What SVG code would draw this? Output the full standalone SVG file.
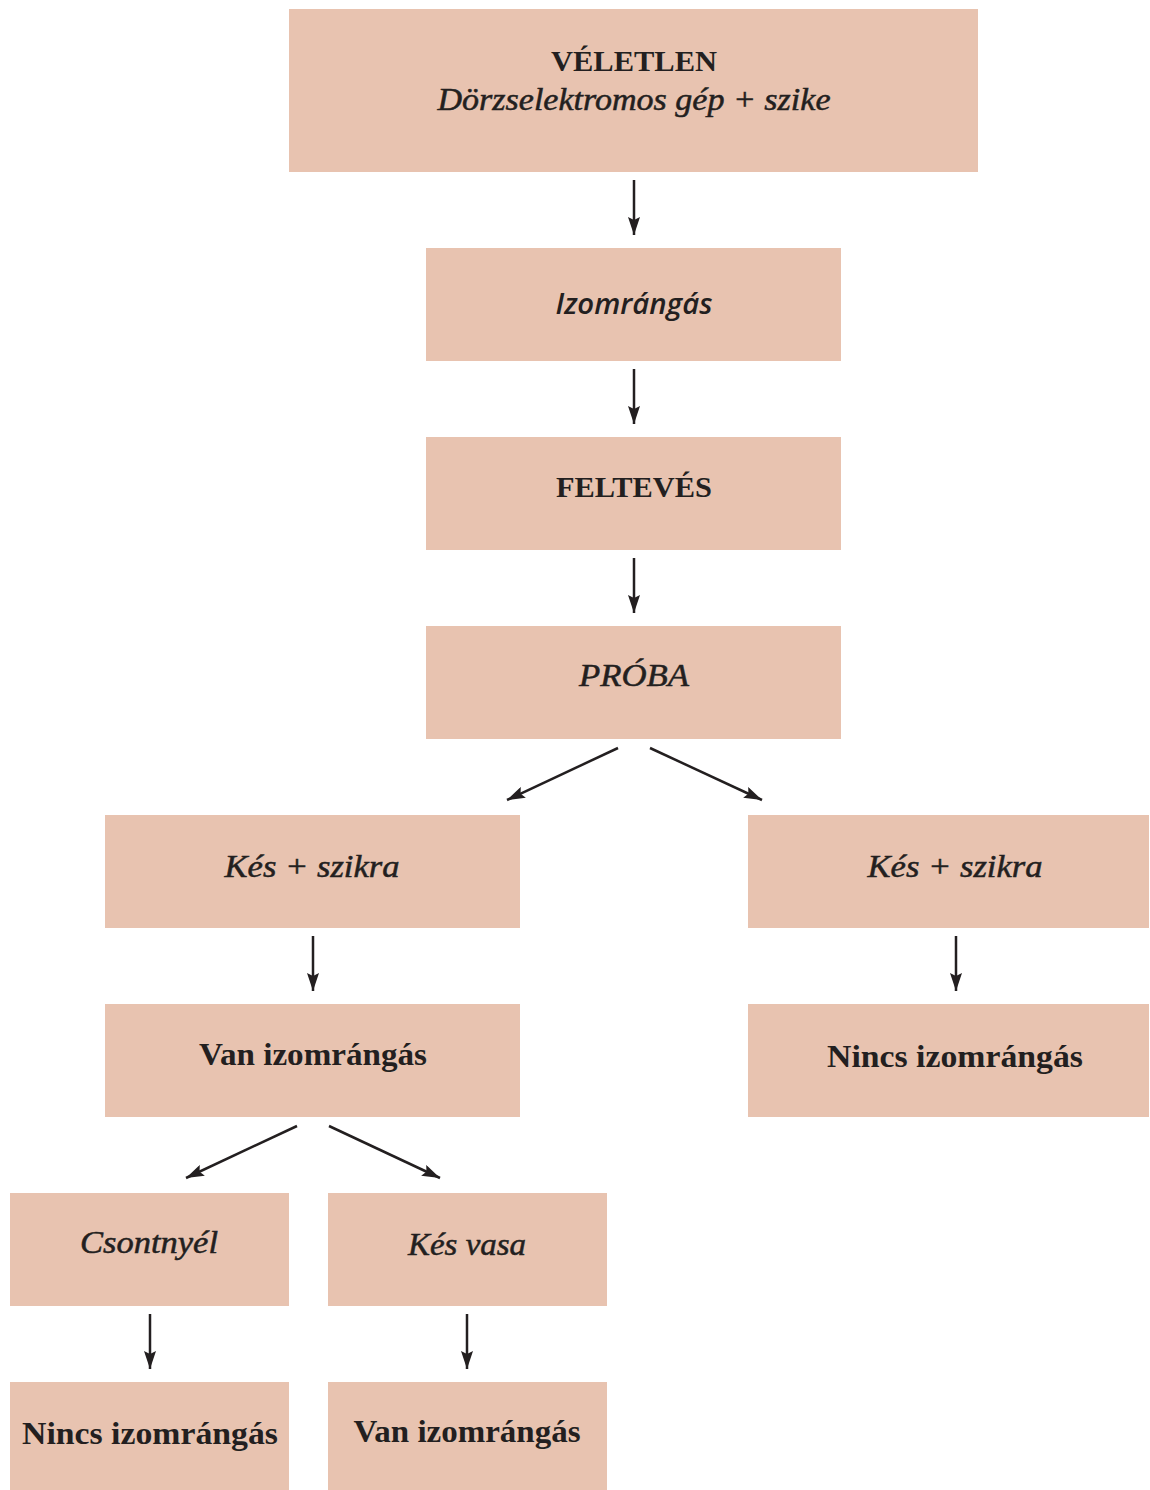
<svg xmlns="http://www.w3.org/2000/svg" width="1150" height="1490" viewBox="0 0 1150 1490">
  <defs>
    <marker id="head" viewBox="0 0 18 12" refX="18" refY="6" markerWidth="18" markerHeight="12" markerUnits="userSpaceOnUse" orient="auto">
      <path d="M0,0 L18,6 L0,12 L3,6 Z" fill="#231f20"/>
    </marker>
    <style>
      .box { fill: #e8c3b0; }
      .t { font-family: "Liberation Serif", "Times New Roman", serif; font-size: 30px; fill: #231f20; text-anchor: middle; }
      .b { font-weight: bold; }
      .lg { font-size: 32px; }
      .i { font-style: italic; font-size: 31px; stroke: #231f20; stroke-width: 0.5; }
      .sans { font-family: "Open Sans", "Liberation Sans", sans-serif; font-weight: 600; font-style: italic; font-size: 29px; }
      .arrow { stroke: #231f20; stroke-width: 2.5; fill: none; marker-end: url(#head); }
    </style>
  </defs>
  <rect width="1150" height="1490" fill="#ffffff"/>

  <g id="veletlen">
    <rect class="box" x="289" y="9" width="689" height="163"/>
    <text class="t b" x="634" y="71" textLength="166" lengthAdjust="spacingAndGlyphs">VÉLETLEN</text>
    <text class="t i" x="634" y="110" textLength="393" lengthAdjust="spacingAndGlyphs">Dörzselektromos gép + szike</text>
  </g>
  <g id="izomrangas">
    <rect class="box" x="426" y="248" width="415" height="113"/>
    <text class="t sans" x="634" y="314" textLength="157" lengthAdjust="spacingAndGlyphs">Izomrángás</text>
  </g>
  <g id="felteves">
    <rect class="box" x="426" y="437" width="415" height="113"/>
    <text class="t b" x="634" y="497" textLength="156" lengthAdjust="spacingAndGlyphs">FELTEVÉS</text>
  </g>
  <g id="proba">
    <rect class="box" x="426" y="626" width="415" height="113"/>
    <text class="t i" x="634" y="686" textLength="110" lengthAdjust="spacingAndGlyphs">PRÓBA</text>
  </g>
  <g id="kes-szikra-bal">
    <rect class="box" x="105" y="815" width="415" height="113"/>
    <text class="t i" x="312" y="877" textLength="175" lengthAdjust="spacingAndGlyphs">Kés + szikra</text>
  </g>
  <g id="kes-szikra-jobb">
    <rect class="box" x="748" y="815" width="401" height="113"/>
    <text class="t i" x="955" y="877" textLength="175" lengthAdjust="spacingAndGlyphs">Kés + szikra</text>
  </g>
  <g id="van-izomrangas-1">
    <rect class="box" x="105" y="1004" width="415" height="113"/>
    <text class="t b lg" x="313" y="1065" textLength="228" lengthAdjust="spacingAndGlyphs">Van izomrángás</text>
  </g>
  <g id="nincs-izomrangas-1">
    <rect class="box" x="748" y="1004" width="401" height="113"/>
    <text class="t b lg" x="955" y="1067" textLength="256" lengthAdjust="spacingAndGlyphs">Nincs izomrángás</text>
  </g>
  <g id="csontnyel">
    <rect class="box" x="10" y="1193" width="279" height="113"/>
    <text class="t i" x="149" y="1253" textLength="138" lengthAdjust="spacingAndGlyphs">Csontnyél</text>
  </g>
  <g id="kes-vasa">
    <rect class="box" x="328" y="1193" width="279" height="113"/>
    <text class="t i" x="467" y="1255" textLength="118" lengthAdjust="spacingAndGlyphs">Kés vasa</text>
  </g>
  <g id="nincs-izomrangas-2">
    <rect class="box" x="10" y="1382" width="279" height="108"/>
    <text class="t b lg" x="150" y="1444" textLength="256" lengthAdjust="spacingAndGlyphs">Nincs izomrángás</text>
  </g>
  <g id="van-izomrangas-2">
    <rect class="box" x="328" y="1382" width="279" height="108"/>
    <text class="t b lg" x="467" y="1442" textLength="227" lengthAdjust="spacingAndGlyphs">Van izomrángás</text>
  </g>

  <g id="connectors">
    <line class="arrow" x1="634" y1="180" x2="634" y2="235"/>
    <line class="arrow" x1="634" y1="369" x2="634" y2="424"/>
    <line class="arrow" x1="634" y1="558" x2="634" y2="613"/>
    <line class="arrow" x1="618" y1="748" x2="507" y2="800"/>
    <line class="arrow" x1="650" y1="748" x2="762" y2="800"/>
    <line class="arrow" x1="313" y1="936" x2="313" y2="991"/>
    <line class="arrow" x1="956" y1="936" x2="956" y2="991"/>
    <line class="arrow" x1="297" y1="1126" x2="186" y2="1178"/>
    <line class="arrow" x1="329" y1="1126" x2="440" y2="1178"/>
    <line class="arrow" x1="150" y1="1314" x2="150" y2="1369"/>
    <line class="arrow" x1="467" y1="1314" x2="467" y2="1369"/>
  </g>
</svg>
